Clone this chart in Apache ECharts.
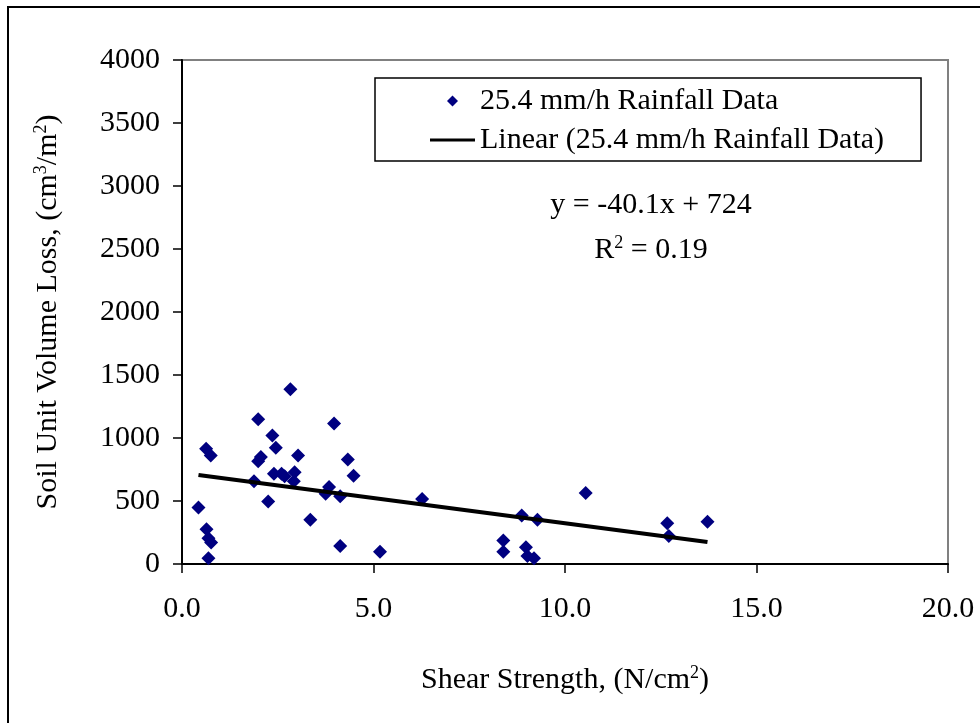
<!DOCTYPE html>
<html>
<head>
<meta charset="utf-8">
<script src="https://cdn.jsdelivr.net/npm/echarts@6/dist/echarts.min.js"></script>
<style>
html,body{margin:0;padding:0;background:#fff;}
#chart{width:980px;height:723px;}
</style>
</head>
<body>
<div id="chart"></div>
<script>
// Shear strength (N/cm2)
const shearStrength = [2.83,1.99,3.97,2.36,2.45,0.63,0.75,3.03,2.06,1.99,4.33,4.48,2.40,2.60,2.68,2.94,2.92,1.88,3.84,3.75,4.13,0.43,2.25,3.35,0.64,0.69,0.76,0.69,4.13,5.17,6.27,10.54,8.87,9.28,12.67,13.72,12.71,8.39,8.39,8.98,9.02,9.19];
// Soil unit volume loss (cm3/m2)
const volumeLoss = [1387,1148,1116,1020,922,914,861,861,850,815,829,701,717,717,696,728,656,656,611,558,537,449,497,351,276,205,170,45,143,98,516,563,385,351,324,335,223,186,98,133,64,45];
// Trendline coefficients, as printed on the chart
const trendSlope = -40.1;
const trendIntercept = 724;
const xTicks = {min:0, max:20, interval:5};
const yTicks = {min:0, max:4000, interval:500};

const font = 'Liberation Serif, Times New Roman, serif';
const diamond = 'path://M0,-1L1,0L0,1L-1,0Z';
const lineIcon = 'path://M0,0H15V1H0Z';
const pts = shearStrength.map((x,i)=>[x, volumeLoss[i]]);
const xmin = Math.min(...shearStrength), xmax = Math.max(...shearStrength);
const trend = [[xmin, trendSlope*xmin+trendIntercept],[xmax, trendSlope*xmax+trendIntercept]];

const chart = echarts.init(document.getElementById('chart'));
const supRich = {
  n:{fontFamily:font,fontSize:30,color:'#000'},
  sup:{fontFamily:font,fontSize:18,color:'#000',verticalAlign:'top',padding:[0,0,14,0]}
};
chart.setOption({
  animation:false,
  backgroundColor:'#fff',
  grid:{left:182,right:32,top:60,bottom:159,show:true,borderColor:'#808080',borderWidth:2,backgroundColor:'transparent'},
  xAxis:{
    type:'value',min:xTicks.min,max:xTicks.max,interval:xTicks.interval,
    axisLine:{show:true,onZero:false,lineStyle:{color:'#000',width:2}},
    axisTick:{show:true,inside:false,length:9,lineStyle:{color:'#000',width:1.5}},
    splitLine:{show:false},
    axisLabel:{margin:30,fontFamily:font,fontSize:30,color:'#000',formatter:v=>v.toFixed(1)},
    name:'{n|Shear Strength, (N/cm}{sup|2}{n|)}',
    nameLocation:'middle',nameGap:100,
    nameTextStyle:{rich:supRich}
  },
  yAxis:{
    type:'value',min:yTicks.min,max:yTicks.max,interval:yTicks.interval,
    axisLine:{show:true,onZero:false,lineStyle:{color:'#000',width:2}},
    axisTick:{show:true,inside:false,length:9,lineStyle:{color:'#000',width:1.5}},
    splitLine:{show:false},
    axisLabel:{margin:22,fontFamily:font,fontSize:30,color:'#000',formatter:v=>String(v)},
    name:'{n|Soil Unit Volume Loss, (cm}{sup|3}{n|/m}{sup|2}{n|)}',
    nameLocation:'middle',nameRotate:90,nameGap:118,
    nameTextStyle:{rich:supRich}
  },
  legend:{
    orient:'vertical',left:375,top:78,
    padding:[8,37,6,55],itemGap:9,itemWidth:45,itemHeight:11,
    symbolKeepAspect:true,
    borderColor:'#000',borderWidth:1.5,backgroundColor:'#fff',
    textStyle:{fontFamily:font,fontSize:30,color:'#000'},
    data:[{name:'25.4 mm/h Rainfall Data',icon:diamond},
          {name:'Linear (25.4 mm/h Rainfall Data)',icon:lineIcon,itemStyle:{color:'#000'}}]
  },
  graphic:[
    {type:'rect',x:8,y:7,shape:{x:0,y:0,width:1000,height:800},style:{fill:'none',stroke:'#000',lineWidth:2},silent:true,z:-1},
    {type:'text',x:651,y:205,style:{text:'y = -40.1x + 724',font:'30px '+font,fill:'#000',align:'center',verticalAlign:'middle'}},
    {type:'text',x:651,y:250,style:{text:'{n|R}{sup|2}{n| = 0.19}',rich:supRich,align:'center',verticalAlign:'middle'}}
  ],
  series:[
    {name:'25.4 mm/h Rainfall Data',type:'scatter',symbol:diamond,symbolSize:14,symbolKeepAspect:true,
     itemStyle:{color:'#000080',opacity:1},data:pts,z:3},
    {name:'Linear (25.4 mm/h Rainfall Data)',type:'line',symbol:'none',showSymbol:false,
     lineStyle:{color:'#000',width:4},itemStyle:{color:'#000'},data:trend,z:4}
  ]
});
</script>
</body>
</html>
